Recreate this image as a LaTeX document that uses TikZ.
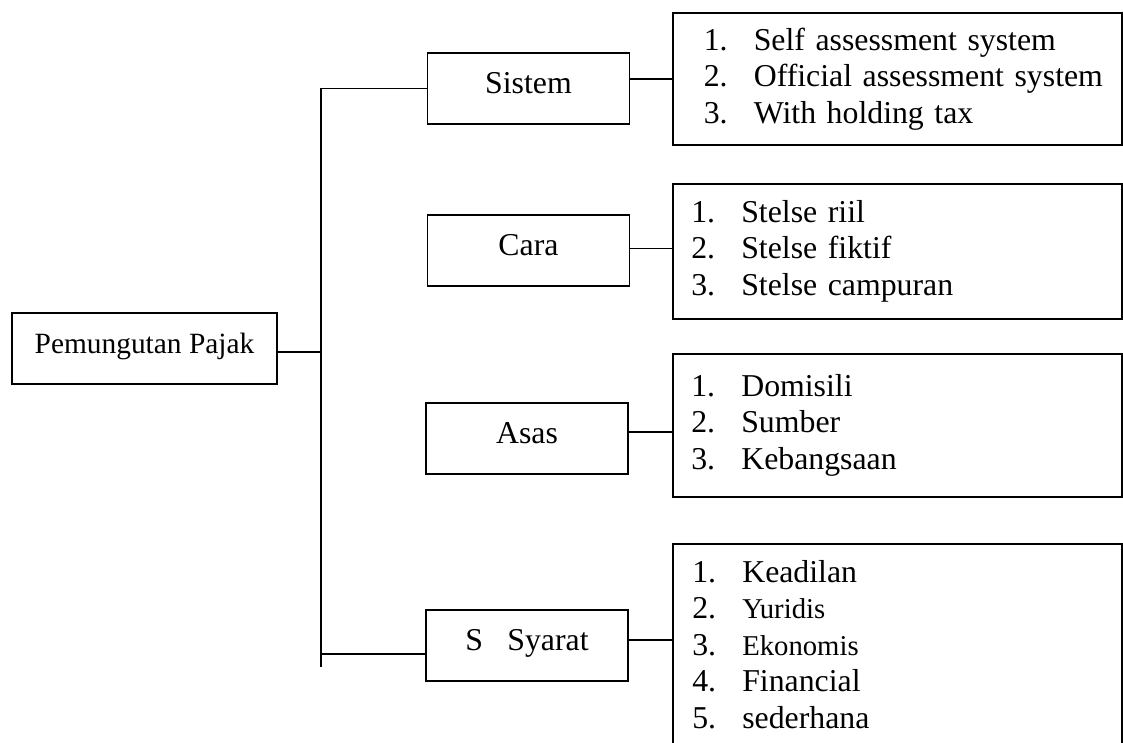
\documentclass[tikz,border=0pt]{standalone}
\usepackage{fontspec}
\setmainfont{Liberation Serif}
\newlength{\numindent}
\newcommand{\pitem}[2]{\hspace*{\numindent}\makebox[50pt][l]{#1}#2}
\newcommand{\smallword}[1]{{\fontsize{28.7}{36.5}\selectfont #1}}
\tikzset{
    every node/.style={font=\fontsize{31.8}{36.5}\selectfont},
    topic/.style={draw, line width=1.6pt, minimum width=202pt, minimum height=71pt, inner sep=0pt, text height=22pt, text depth=13pt},
    itembox/.style={draw, line width=1.6pt, anchor=north west, text width=449pt, inner sep=0pt, align=left, minimum height=#1},
    link/.style={line width=1.4pt},
}
\begin{document}
\begin{tikzpicture}[x=1pt, y=-1pt]
    \clip (0,0) rectangle (1123,742);
    \node[topic, minimum width=265pt, font=\fontsize{29.4}{34}\selectfont] (pajak) at (144.5,348.5) {Pemungutan Pajak};
    \node[topic] (sistem) at (528.5,88.5) {Sistem};
    \node[topic] (cara) at (528.5,250.5) {Cara};
    \node[topic] (asas) at (527,438.5) {Asas};
    \node[topic] (syarat) at (527,645.5) {S\hspace{24.3pt}Syarat\hspace{23.4pt}};
    \node[itembox=132pt] (sistem-list) at (672,12) {\setlength{\numindent}{31pt}\pitem{1.}{Self assessment system}\\ \pitem{2.}{Official assessment system}\\ \pitem{3.}{With holding tax}};
    \node[itembox=135pt] (cara-list) at (672,183) {\setlength{\numindent}{18.5pt}\pitem{1.}{Stelse riil}\\ \pitem{2.}{Stelse fiktif}\\ \pitem{3.}{Stelse campuran}};
    \node[itembox=143pt] (asas-list) at (672,353) {\setlength{\numindent}{18.5pt}\pitem{1.}{Domisili}\\ \pitem{2.}{Sumber}\\ \pitem{3.}{Kebangsaan}};
    \node[itembox=201.3pt] (syarat-list) at (672,543) {\setlength{\numindent}{19.5pt}\pitem{1.}{Keadilan}\\ \pitem{2.}{\smallword{Yuridis}}\\ \pitem{3.}{\smallword{Ekonomis}}\\ \pitem{4.}{Financial}\\ \pitem{5.}{sederhana}};
    \coordinate (trunk) at (321,667);
    \coordinate (pajak-out) at ([yshift=-3.5pt]pajak.east);
    \coordinate (syarat-in) at ([yshift=-8.5pt]syarat.west);
    \coordinate (cara-out) at ([yshift=2pt]cara.east);
    \coordinate (asas-out) at ([yshift=6.5pt]asas.east);
    \coordinate (syarat-out) at ([yshift=5.5pt]syarat.east);
    \draw[link] (sistem.west) -| (trunk);
    \draw[link] (pajak-out) -- (pajak-out -| trunk);
    \draw[link] (syarat-in -| trunk) -- (syarat-in);
    \draw[link] (sistem-list.west -| sistem.east) -- (sistem-list.west);
    \draw[link] (cara-out) -- (cara-out -| cara-list.west);
    \draw[link] (asas-out) -- (asas-out -| asas-list.west);
    \draw[link] (syarat-out) -- (syarat-out -| syarat-list.west);
\end{tikzpicture}
\end{document}
